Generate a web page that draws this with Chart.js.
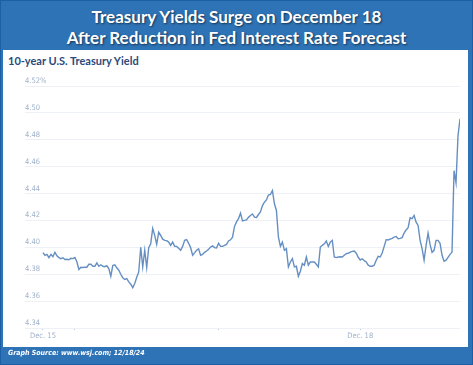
<!DOCTYPE html>
<html>
<head>
<meta charset="utf-8">
<script src="https://cdn.jsdelivr.net/npm/chart.js@4/dist/chart.umd.min.js"></script>
<style>
body{margin:0;background:#fff;}
#frame{position:relative;width:471px;height:363px;background:#2e73b6;border:1px solid #1c5fa5;overflow:hidden;}
#title{position:absolute;left:0;top:5px;width:471px;text-align:center;color:#fff;font-family:Lato,"Open Sans",sans-serif;font-weight:700;font-size:17px;line-height:21px;text-shadow:1px 1px 2px rgba(0,0,0,0.55);}
#panel{position:absolute;left:2px;top:49px;width:465px;height:297px;background:#fff;}
#sub{position:absolute;left:7px;top:53px;color:#2b4a7b;font-family:Lato,"Open Sans",sans-serif;font-weight:700;font-size:11px;line-height:13px;}
#foot{position:absolute;left:7px;top:347px;color:#fff;font-family:"Liberation Sans Narrow","DejaVu Sans Condensed",Lato,sans-serif;font-weight:700;font-style:italic;font-size:7px;line-height:10px;}
#box{position:absolute;left:-1px;top:69px;width:473px;height:280px;}
</style>
</head>
<body>
<div id="frame">
  <div id="title">Treasury Yields Surge on December 18<br>After Reduction in Fed Interest Rate Forecast</div>
  <div id="panel"></div>
  <div id="sub">10-year U.S. Treasury Yield</div>
  <div id="box"><canvas id="myc"></canvas></div>
  <div id="foot">Graph Source: www.wsj.com; 12/18/24</div>
</div>
<script>
console.log("drawing yield chart")

// 10-year yield, one reading every ~20 minutes from Dec 15 evening
var yields = [
  4.3961,4.3941,4.3948,4.3924,4.3948,4.3930,4.3963,4.3937,4.3924,4.3916,
  4.3922,4.3909,4.3911,4.3907,4.3919,4.3916,4.3924,4.3893,4.3835,4.3852,
  4.3850,4.3852,4.3852,4.3874,4.3874,4.3859,4.3859,4.3885,4.3859,4.3870,
  4.3859,4.3856,4.3863,4.3842,4.3785,4.3864,4.3870,4.3848,4.3830,4.3800,
  4.3774,4.3761,4.3767,4.3743,4.3726,4.3700,4.3731,4.3778,4.3817,4.4000,
  4.3854,4.3978,4.3850,4.3998,4.4027,4.4141,4.4089,4.4022,4.4113,4.4089,
  4.4061,4.4052,4.4050,4.4039,4.4015,4.4039,4.4007,4.4007,4.3993,4.3978,
  4.4007,4.4052,4.4057,4.4030,4.3998,4.3941,4.3959,4.3978,4.3989,4.3941,
  4.3948,4.3963,4.3973,4.3985,4.4002,4.4011,4.3998,4.3996,4.4030,4.4007,
  4.4007,4.4015,4.4022,4.4047,4.4056,4.4076,4.4156,4.4189,4.4213,4.4254,
  4.4196,4.4200,4.4204,4.4224,4.4237,4.4248,4.4224,4.4222,4.4244,4.4263,
  4.4311,4.4336,4.4353,4.4389,4.4393,4.4422,4.4324,4.4274,4.4076,4.4007,
  4.4039,4.3978,4.3990,4.3854,4.3891,4.3916,4.3854,4.3859,4.3785,4.3822,
  4.3879,4.3867,4.3928,4.3867,4.3891,4.3891,4.3891,4.3874,4.3854,4.4002,
  4.4015,4.4026,4.4047,4.4007,4.4039,4.4052,4.3928,4.3924,4.3928,4.3930,
  4.3928,4.3941,4.3953,4.3956,4.3965,4.3970,4.3973,4.3956,4.3926,4.3906,
  4.3915,4.3901,4.3891,4.3867,4.3859,4.3859,4.3867,4.3904,4.3933,4.3928,
  4.3958,4.4007,4.4057,4.4055,4.4061,4.4067,4.4076,4.4081,4.4064,4.4067,
  4.4072,4.4106,4.4129,4.4146,4.4220,4.4213,4.4237,4.4187,4.4163,4.4052,
  4.3990,4.3904,4.4015,4.4106,4.4022,4.3963,4.3978,4.4052,4.4052,4.4030,
  4.3941,4.3896,4.3904,4.3926,4.3948,4.3963,4.4570,4.4481,4.4830,4.4956
]
var steps = yields.map(function(v,i){ return i })

// x ticks: start of data, midnight Dec 16, midnight Dec 17, Dec 18
var xTickPos = [0, 16, 88, 159]
var xTickLabels = ["Dec. 15", "", "", "Dec. 18"]

var yTicks = [4.34, 4.36, 4.38, 4.40, 4.42, 4.44, 4.46, 4.48, 4.50, 4.52]
var yTickLabels = ["4.34","4.36","4.38","4.40","4.42","4.44","4.46","4.48","4.50","4.52%"]

var smallFont = {family:'"Liberation Sans Narrow","DejaVu Sans Condensed",Lato,sans-serif', size:7.5}
var tickColor = "#9fb1ca"

var data = {
  labels: steps,
  datasets: [{
    label: "10-year yield",
    data: yields.map(function(v,i){ return {x: steps[i], y: v} }),
    borderColor: "#658fc2",
    borderWidth: 1.4,
    pointRadius: 0,
    tension: 0,
    fill: false
  }]
}

var config = {
  type: "line",
  data: data,
  options: {
    responsive: true,
    maintainAspectRatio: false,
    animation: false,
    devicePixelRatio: 1,
    layout: {padding: {left: 0, top: 16, right: 13, bottom: 0}},
    plugins: {legend: {display: false}, tooltip: {enabled: false}},
    scales: {
      x: {
        type: "linear",
        min: -9,
        max: 209,
        afterFit: function(s){ s.height = 22 },
        afterBuildTicks: function(s){
          s.ticks = xTickPos.map(function(p){ return {value: p} })
        },
        grid: {drawOnChartArea: false, drawTicks: true, tickLength: 2, color: "#b9c8db"},
        border: {display: false},
        ticks: {
          color: tickColor, font: smallFont, padding: 2, maxRotation: 0, autoSkip: false,
          callback: function(v, i){ return xTickLabels[i] }
        }
      },
      y: {
        min: 4.34,
        max: 4.52,
        afterFit: function(s){ s.width = 25 },
        afterBuildTicks: function(s){
          s.ticks = yTicks.map(function(t){ return {value: t} })
        },
        grid: {drawTicks: false, color: "#edf1f6", lineWidth: 1},
        border: {display: false},
        ticks: {
          mirror: true, padding: 0, labelOffset: -5,
          color: tickColor, font: smallFont,
          callback: function(v, i){ return yTickLabels[i] }
        }
      }
    }
  }
}

var ctx = document.getElementById("myc").getContext("2d")
var myChart = new Chart(ctx, config)
//end of chart
</script>
</body>
</html>
